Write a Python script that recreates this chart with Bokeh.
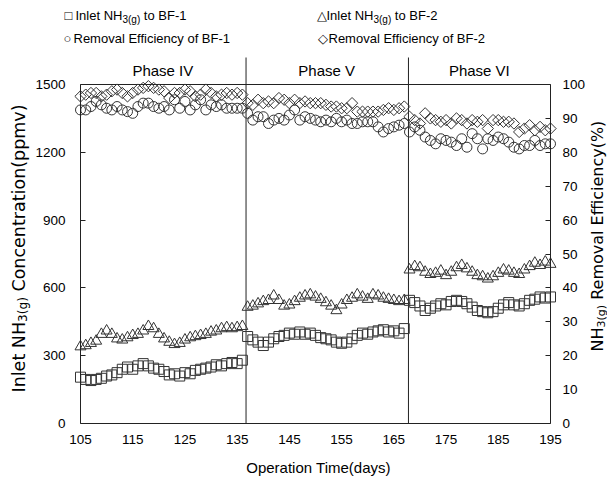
from math import pi
from bokeh.plotting import figure
from bokeh.models import Range1d, LinearAxis, FixedTicker, Label
from bokeh.embed import file_html
from bokeh.resources import INLINE

# ---------------- data ----------------
days = list(range(105, 196))

inlet_bf1_p4 = [205, 195, 190, 195, 200, 210, 215, 225, 240, 250, 240, 255, 265, 255, 245, 240,
                230, 215, 220, 210, 225, 220, 235, 240, 245, 250, 260, 255, 265, 270, 265, 280]
inlet_bf1_p5 = [385, 370, 360, 345, 360, 375, 385, 390, 400, 395, 405, 395, 400, 390, 380, 375,
                370, 360, 355, 360, 375, 390, 400, 395, 405, 410, 415, 405, 410, 400, 420]
inlet_bf1_p6 = [545, 535, 520, 500, 510, 520, 530, 525, 540, 545, 540, 530, 515, 500, 495, 490,
                495, 510, 525, 535, 525, 520, 530, 545, 550, 560, 555, 560]

inlet_bf2_p4 = [340, 345, 355, 365, 395, 410, 395, 375, 370, 380, 390, 395, 410, 430, 420, 395,
                375, 360, 350, 355, 370, 380, 385, 390, 395, 405, 410, 420, 425, 420, 425, 430]
inlet_bf2_p5 = [515, 520, 530, 540, 545, 565, 545, 520, 525, 540, 555, 565, 570, 560, 550, 535,
                520, 500, 525, 545, 555, 570, 560, 550, 570, 565, 555, 550, 545, 540, 545]
inlet_bf2_p6 = [680, 695, 690, 670, 660, 665, 675, 655, 670, 690, 700, 685, 670, 655, 650, 640,
                650, 665, 680, 675, 665, 660, 680, 695, 710, 700, 715, 705]

eff_bf1_p4 = [92.5, 92.5, 93.5, 95, 94, 93, 92.5, 93.5, 92.5, 92, 91.5, 93.5, 94.5, 94.5, 93.5, 93,
              93.5, 92.5, 95.5, 93, 95, 92.5, 94, 95.5, 92.5, 94, 93.5, 94, 93, 93, 93, 93]
eff_bf1_p5 = [91.5, 89.5, 90.5, 90.5, 88.5, 89.5, 90, 89.5, 91, 92.5, 89.5, 90.5, 90, 89.5, 89, 89.5,
              89, 90, 89, 89.5, 88.5, 88.5, 89, 89, 89, 87.5, 86, 87, 87.5, 88, 88.5]
eff_bf1_p6 = [86, 87.5, 86.5, 84.5, 83.5, 82.5, 84, 83.5, 83, 82, 84, 81.5, 85.5, 84, 81, 84,
              83.5, 84.5, 84, 83, 81.5, 81, 82, 82, 83.5, 82, 82.5, 82.5]

eff_bf2_p4 = [96.5, 97, 97.5, 97.5, 96.5, 97, 98, 98.5, 97.5, 96.5, 97.5, 98.5, 99, 99.5, 99, 98.5,
              98, 96, 97.5, 97.5, 98.5, 98, 96.5, 97, 98.5, 97.5, 96.5, 97, 97.5, 97, 97.5, 97]
eff_bf2_p5 = [94.5, 94, 95.5, 94.5, 95, 94.5, 96, 95.5, 94.5, 95.5, 94.5, 95, 94.5, 94.5, 94.5, 94,
              93.5, 93.5, 93, 93, 94.5, 92, 92, 92, 92, 92, 92.5, 93, 92.5, 93, 93.5]
eff_bf2_p6 = [90.5, 89.5, 88.5, 91.5, 90, 89.5, 89, 89.5, 88.5, 90, 89.5, 88.5, 89.5, 89, 89.5, 87,
              89.5, 89.5, 89, 89, 88.5, 86, 87, 88, 86.5, 87.5, 86.5, 87]

inlet_bf1 = inlet_bf1_p4 + inlet_bf1_p5 + inlet_bf1_p6
inlet_bf2 = inlet_bf2_p4 + inlet_bf2_p5 + inlet_bf2_p6
eff_bf1 = eff_bf1_p4 + eff_bf1_p5 + eff_bf1_p6
eff_bf2 = eff_bf2_p4 + eff_bf2_p5 + eff_bf2_p6

phase_names = ["Phase IV", "Phase V", "Phase VI"]
phase_bounds = [136.7, 167.8]
x_ticks = [105, 115, 125, 135, 145, 155, 165, 175, 185, 195]
left_ticks = [0, 300, 600, 900, 1200, 1500]
right_ticks = [0, 10, 20, 30, 40, 50, 60, 70, 80, 90, 100]

# ---------------- geometry (pixels of the 607x482 canvas) ----------------
W, H = 607, 482
FL, FR, FT, FB = 80, 550, 84, 423      # plot box
HEAD = 57                              # top of phase separators
XMIN, XMAX = 105, 195
YMAX = 1500
EFF_MAX = 100


def dx(sx):
    return XMIN + (sx - FL) * (XMAX - XMIN) / (FR - FL)


def dy(sy):
    return (FB - sy) * YMAX / (FB - FT)


FONT = "Liberation Sans"
TFONT = "DejaVu Sans"
INK = "#222222"
MK = "#333333"

# the frame spans the whole canvas; axes are pinned at the plot-box edges
p = figure(width=W, height=H, x_range=Range1d(dx(0), dx(W)), y_range=Range1d(dy(H), dy(0)),
           output_backend="svg", toolbar_location=None,
           x_axis_location=None, y_axis_location=None,
           min_border=0, min_border_left=0, min_border_right=0, min_border_top=0, min_border_bottom=0)
p.extra_y_ranges = {"eff": Range1d(dy(H) * EFF_MAX / YMAX, dy(0) * EFF_MAX / YMAX)}
p.outline_line_color = None
p.xgrid.visible = False
p.ygrid.visible = False
p.background_fill_color = "white"
p.border_fill_color = "white"

xaxis = LinearAxis(fixed_location=0, ticker=FixedTicker(ticks=x_ticks), bounds=(XMIN, XMAX))
laxis = LinearAxis(fixed_location=XMIN, ticker=FixedTicker(ticks=left_ticks), bounds=(0, YMAX))
raxis = LinearAxis(fixed_location=XMAX, y_range_name="eff", ticker=FixedTicker(ticks=right_ticks),
                   bounds=(0, EFF_MAX))
for ax in [xaxis, laxis, raxis]:
    ax.axis_line_color = INK
    ax.major_tick_line_color = INK
    ax.minor_tick_line_color = None
    ax.major_tick_out = 0
    ax.major_tick_in = 5
    ax.major_label_text_font = FONT
    ax.major_label_text_font_size = "13.5px"
    ax.major_label_text_color = "black"
xaxis.major_tick_in = 0
xaxis.major_label_standoff = 11
laxis.major_label_standoff = 15
raxis.major_label_standoff = 12
p.add_layout(xaxis, "below")
p.add_layout(laxis, "left")
p.add_layout(raxis, "right")

# top edge of the plot box and phase separators
p.segment(x0=[XMIN], y0=[YMAX], x1=[XMAX], y1=[YMAX], line_color=INK, line_width=1)
top_head = dy(HEAD)
p.segment(x0=phase_bounds, y0=[0, 0], x1=phase_bounds, y1=[top_head, top_head],
          line_color=INK, line_width=1)

# series
p.scatter(days, inlet_bf1, marker="square", size=10, fill_color=None, line_color=MK, line_width=1)
p.scatter(days, inlet_bf2, marker="triangle", size=11, fill_color=None, line_color=MK, line_width=1)
p.scatter(days, eff_bf1, marker="circle", size=10, fill_color=None, line_color=MK, line_width=1,
          y_range_name="eff")
p.scatter(days, eff_bf2, marker="square", angle=pi / 4, size=8, fill_color=None, line_color=MK,
          line_width=1, y_range_name="eff")


def txt(sx, sy, s, size, align="left", baseline="middle", angle=0.0, font=FONT):
    p.add_layout(Label(x=dx(sx), y=dy(sy), text=s, text_font=font, text_font_size=f"{size}px",
                       text_color="black", text_align=align, text_baseline=baseline, angle=angle))


# phase headers
phase_px = [FL, 244.7, 407.7, FR]
for i, name in enumerate(phase_names):
    txt((phase_px[i] + phase_px[i + 1]) / 2, 70, name, 15, align="center")

# x axis title
txt(318, 467, "Operation Time(days)", 15, align="center")

# left axis title (rotated, with subscript) -- DejaVu Sans advance widths in em
fL = 17.5
sL = round(fL * 0.69, 1)
s0 = 392
txt(18, s0, "Inlet NH", fL, baseline="alphabetic", angle=pi / 2, font=TFONT)
s1 = s0 - 4.032 * fL
txt(22, s1, "3(g)", sL, baseline="alphabetic", angle=pi / 2, font=TFONT)
s2 = s1 - 2.051 * sL - 0.318 * fL
txt(18, s2, "Concentration(ppmv)", fL, baseline="alphabetic", angle=pi / 2, font=TFONT)

# right axis title
fR = 16
sR = 11
r0 = 351
txt(597, r0, "NH", fR, baseline="alphabetic", angle=pi / 2, font=TFONT)
r1 = r0 - 1.5 * fR
txt(600.5, r1, "3(g)", sR, baseline="alphabetic", angle=pi / 2, font=TFONT)
r2 = r1 - 2.051 * sR - 0.318 * fR
txt(597, r2, "Removal Efficiency(%)", fR, baseline="alphabetic", angle=pi / 2, font=TFONT)

# legend
fG = 13
for (mx, tx, sym, lab) in [(64, 75, "\u25a1", "BF-1"), (316, 326, "\u25b3", "BF-2")]:
    txt(mx, 15, sym, fG)
    txt(tx, 15, "Inlet NH", fG)
    sx_sub = tx + 3.612 * fG
    txt(sx_sub, 19, "3(g)", 10)
    txt(sx_sub + 1.778 * 10 + 0.278 * fG, 15, "to " + lab, fG)
for (mx, tx, sym, lab) in [(63, 73, "\u25cb", "BF-1"), (317, 328, "\u25c7", "BF-2")]:
    txt(mx, 38, sym, fG)
    txt(tx, 38, "Removal Efficiency of " + lab, fG)

open("out.html", "w").write(file_html(p, INLINE))
